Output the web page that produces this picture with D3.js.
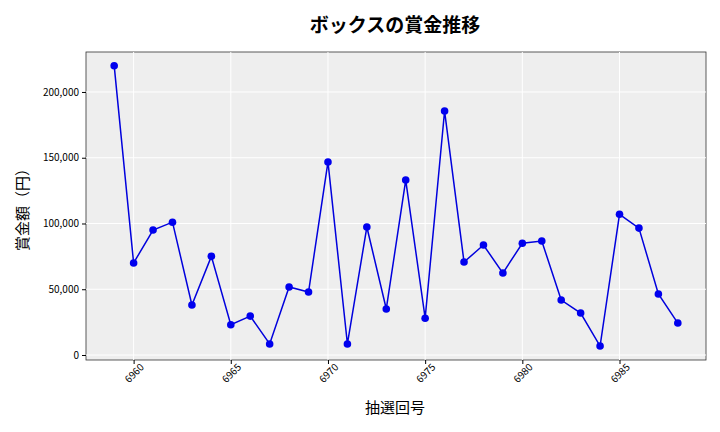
<!DOCTYPE html><html><head><meta charset="utf-8">
<script src="https://cdn.jsdelivr.net/npm/d3@7"></script>
<style>body{margin:0;background:#fff}text{font-family:"Noto Sans CJK JP","Noto Sans",sans-serif}</style></head><body>
<svg id="c" width="720" height="432"></svg>
<script>
const draws=[6959,6960,6961,6962,6963,6964,6965,6966,6967,6968,6969,6970,6971,6972,6973,6974,6975,6976,6977,6978,6979,6980,6981,6982,6983,6984,6985,6986,6987,6988];
const prizes=[220000,70000,95000,101000,38000,75000,23000,29600,8400,51700,47900,146800,8400,97300,35000,133000,28000,185500,70700,83600,62300,85000,86700,41800,31900,6800,107000,96500,46400,24300];
const xTicks=[6960,6965,6970,6975,6980,6985];
const yTicks=[0,50000,100000,150000,200000];
const svg=d3.select("#c");
const L=86,R=706,T=52,B=360;
const x=d3.scaleLinear().domain([6957.55,6989.45]).range([L,R]);
const y=d3.scaleLinear().domain([-3800,230400]).range([B,T]);
svg.append("rect").attr("x",L).attr("y",T).attr("width",R-L).attr("height",B-T).attr("fill","#eeeeee").attr("stroke","#333").attr("stroke-width",0.8);
svg.append("g").selectAll("line").data(xTicks).join("line").attr("x1",d=>x(d)).attr("x2",d=>x(d)).attr("y1",T).attr("y2",B).attr("stroke","#fff");
svg.append("g").selectAll("line").data(yTicks).join("line").attr("x1",L).attr("x2",R).attr("y1",d=>y(d)).attr("y2",d=>y(d)).attr("stroke","#fff");
const xa=svg.append("g").attr("transform",`translate(0,${B})`).call(d3.axisBottom(x).tickValues(xTicks).tickFormat(d3.format("d")).tickSizeOuter(0).tickSize(4));
xa.select(".domain").remove();
xa.selectAll("text").attr("font-size",10).attr("text-anchor","end").attr("dx","0.2em").attr("dy","0.6em").attr("transform","rotate(-45)").style("text-anchor","end");
const ya=svg.append("g").attr("transform",`translate(${L},0)`).call(d3.axisLeft(y).tickValues(yTicks).tickFormat(d3.format(",")).tickSizeOuter(0).tickSize(4));
ya.select(".domain").remove();
ya.selectAll("text").attr("font-size",10);
svg.append("path").datum(prizes).attr("fill","none").attr("stroke","#0000dd").attr("stroke-width",1.5)
 .attr("d",d3.line().x((d,i)=>x(draws[i])).y(d=>y(d)));
svg.append("g").selectAll("circle").data(prizes).join("circle").attr("cx",(d,i)=>x(draws[i])).attr("cy",d=>y(d)).attr("r",3.8).attr("fill","#0000ee");
svg.append("text").attr("x",395).attr("y",32).attr("text-anchor","middle").attr("font-size",19).attr("font-weight","bold").text("ボックスの賞金推移");
svg.append("text").attr("x",395).attr("y",413).attr("text-anchor","middle").attr("font-size",15).text("抽選回号");
svg.append("text").attr("transform","translate(28,206) rotate(-90)").attr("text-anchor","middle").attr("font-size",15).text("賞金額（円）");
</script></body></html>
